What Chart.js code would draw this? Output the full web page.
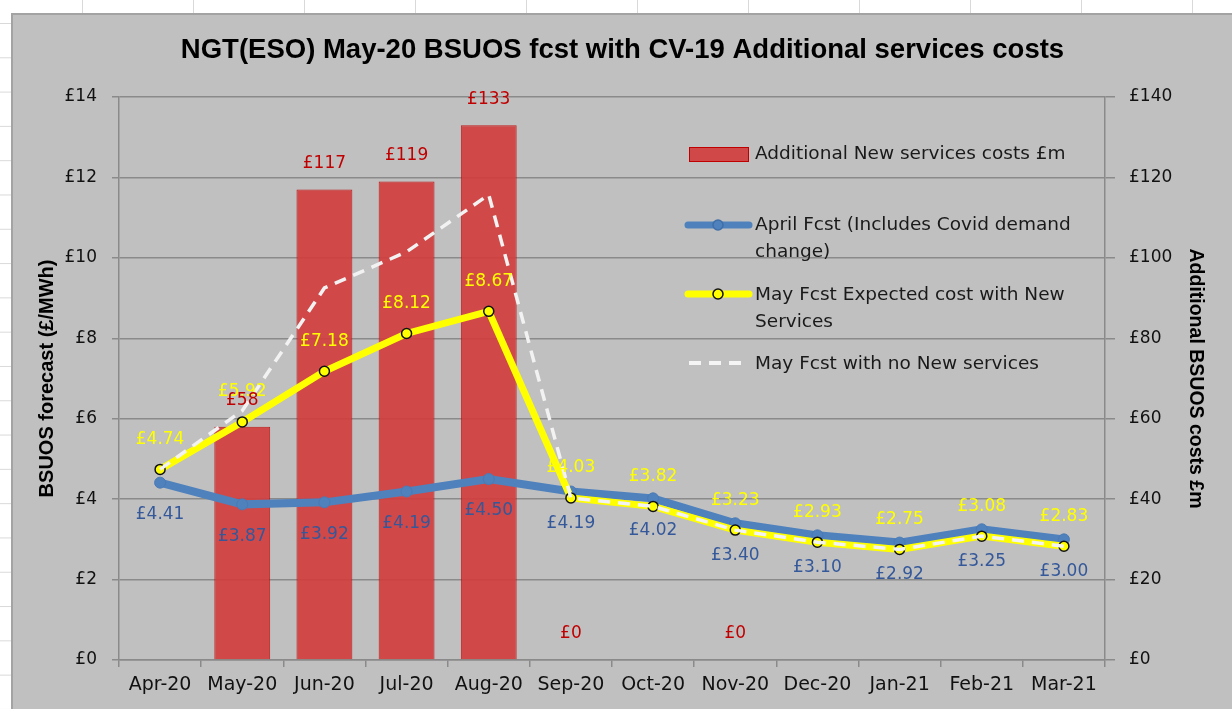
<!DOCTYPE html>
<html>
<head>
<meta charset="utf-8">
<script src="https://cdn.jsdelivr.net/npm/chart.js@4.4.1/dist/chart.umd.min.js"></script>
<style>
  html, body { margin: 0; padding: 0; }
  body {
    width: 1232px; height: 709px; overflow: hidden; position: relative;
    background-color: #fff;
    background-image:
      linear-gradient(to right, #d9d9d9 1px, transparent 1px),
      linear-gradient(to bottom, #d9d9d9 1px, transparent 1px);
    background-size: 111px 100%, 100% 34.3px;
    background-position: 82px 0, 0 23px;
  }
  #frame {
    position: absolute; left: 11px; top: 13px; width: 1240px; height: 710px;
    border-left: 2px solid #a3a3a3; border-top: 2px solid #a3a3a3;
    background: #c0c0c0;
  }
  #chart { position: absolute; left: 0; top: 0; }
  .lg-text {
    position: absolute; font: 18.5px "DejaVu Sans", sans-serif; color: #1a1a1a;
    line-height: 27px; white-space: nowrap;
  }
  .lg-key { position: absolute; }
</style>
</head>
<body>
<div id="frame">
  <canvas id="chart" width="1219" height="694"></canvas>

  <!-- legend sits inside the plot like the Excel one -->
  <div class="lg-key" style="left:676px; top:132px; width:58px; height:13px; background:rgba(209,59,59,0.9); border:1px solid #c00000;"></div>
  <div class="lg-text" style="left:742px; top:124px;">Additional New services costs £m</div>

  <svg class="lg-key" style="left:670px; top:198px;" width="72" height="24">
    <line x1="5" y1="12" x2="66" y2="12" stroke="#4f81bd" stroke-width="7" stroke-linecap="round"/>
    <circle cx="35" cy="12" r="5" fill="#4f81bd" stroke="#3f6fa8" stroke-width="1.5"/>
  </svg>
  <div class="lg-text" style="left:742px; top:195px;">April Fcst (Includes Covid demand<br>change)</div>

  <svg class="lg-key" style="left:670px; top:267px;" width="72" height="24">
    <line x1="5" y1="12" x2="66" y2="12" stroke="#ffff00" stroke-width="7" stroke-linecap="round"/>
    <circle cx="35" cy="12" r="5" fill="#ffff00" stroke="#111" stroke-width="1.5"/>
  </svg>
  <div class="lg-text" style="left:742px; top:265px;">May Fcst Expected cost with New<br>Services</div>

  <svg class="lg-key" style="left:670px; top:336px;" width="72" height="24">
    <line x1="6" y1="12" x2="60" y2="12" stroke="#f4f4f4" stroke-width="4" stroke-dasharray="12 8"/>
  </svg>
  <div class="lg-text" style="left:742px; top:334px;">May Fcst with no New services</div>
</div>

<script>
// ---------- data ----------
const months = ['Apr-20', 'May-20', 'Jun-20', 'Jul-20', 'Aug-20', 'Sep-20',
                'Oct-20', 'Nov-20', 'Dec-20', 'Jan-21', 'Feb-21', 'Mar-21'];

// £m, right axis (null = no bar / no label)
const newServicesCost = [null, 58, 117, 119, 133, 0, null, 0, null, null, null, null];

// £/MWh, left axis
const aprilFcst = [4.41, 3.87, 3.92, 4.19, 4.50, 4.19, 4.02, 3.40, 3.10, 2.92, 3.25, 3.00];
const mayFcst   = [4.74, 5.92, 7.18, 8.12, 8.67, 4.03, 3.82, 3.23, 2.93, 2.75, 3.08, 2.83];
const mayNoNew  = [4.74, 6.20, 9.25, 10.15, 11.57, 4.03, 3.82, 3.23, 2.93, 2.75, 3.08, 2.83];

const leftTicks  = [0, 2, 4, 6, 8, 10, 12, 14];
const rightTicks = [0, 20, 40, 60, 80, 100, 120, 140];

const GRID = '#8a8a8a';

// ---------- value labels (no datalabels plugin available) ----------
const valueLabels = {
    id: 'valueLabels',
    afterDatasetsDraw(chart) {
        const ctx = chart.ctx;
        ctx.save();
        ctx.font = '17px "DejaVu Sans", sans-serif';
        ctx.textAlign = 'center';
        ctx.textBaseline = 'middle';
        // yellow first, blue, then red on top (like the original)
        [1, 2, 0].forEach(di => {
            const ds = chart.data.datasets[di];
            const meta = chart.getDatasetMeta(di);
            if (!ds.valueLabel) return;
            ctx.fillStyle = ds.valueLabel.color;
            meta.data.forEach((el, i) => {
                const v = ds.data[i];
                if (v === null || v === undefined) return;
                const txt = ds.valueLabel.bar ? '£' + v : '£' + v.toFixed(2);
                ctx.fillText(txt, el.x, el.y + ds.valueLabel.dy);
            });
        });
        ctx.restore();
    }
};

const ctx = document.getElementById('chart').getContext('2d');
const chart = new Chart(ctx, {
    type: 'bar',
    data: {
        labels: months,
        datasets: [
            {
                type: 'bar', label: 'Additional New services costs £m', data: newServicesCost,
                yAxisID: 'y1', order: 4,
                backgroundColor: 'rgba(209,59,59,0.9)', borderColor: 'rgba(192,0,0,0.85)', borderWidth: 1,
                barPercentage: 0.68, categoryPercentage: 1.0,
                valueLabel: { color: '#c00000', dy: -26, bar: true }
            },
            {
                type: 'line', label: 'May Fcst Expected cost with New Services', data: mayFcst,
                yAxisID: 'y', order: 2,
                borderColor: '#ffff00', borderWidth: 7, tension: 0,
                pointRadius: 5, pointBackgroundColor: '#ffff00', pointBorderColor: '#111', pointBorderWidth: 1.5,
                valueLabel: { color: '#ffff00', dy: -30 }
            },
            {
                type: 'line', label: 'April Fcst (Includes Covid demand change)', data: aprilFcst,
                yAxisID: 'y', order: 3,
                borderColor: '#4f81bd', borderWidth: 8, tension: 0,
                pointRadius: 5.5, pointBackgroundColor: '#4f81bd', pointBorderColor: '#4a7ab4', pointBorderWidth: 1,
                valueLabel: { color: '#34589a', dy: 32 }
            },
            {
                type: 'line', label: 'May Fcst with no New services', data: mayNoNew,
                yAxisID: 'y', order: 1,
                borderColor: '#f2f2f2', borderWidth: 3.5, borderDash: [12, 8], tension: 0,
                pointRadius: 0
            }
        ]
    },
    options: {
        responsive: false,
        animation: false,
        layout: { padding: 0 },
        plugins: {
            legend: { display: false },
            tooltip: { enabled: false },
            title: {
                display: true,
                text: 'NGT(ESO) May-20 BSUOS fcst with CV-19 Additional services costs',
                color: '#000',
                font: { family: '"Liberation Sans", sans-serif', size: 27.5, weight: 'bold' },
                padding: { top: 19, bottom: 30 }
            }
        },
        scales: {
            x: {
                grid: { drawOnChartArea: false, color: GRID, lineWidth: 1.5, tickLength: 7, offset: true },
                border: { color: GRID, width: 1.5 },
                ticks: { color: '#111', font: { family: '"DejaVu Sans", sans-serif', size: 19 }, padding: 7, maxRotation: 0 },
                afterFit: s => { s.height = 49; }
            },
            y: {
                position: 'left', min: 0, max: 14,
                afterBuildTicks: s => { s.ticks = leftTicks.map(v => ({ value: v })); },
                ticks: { callback: v => '£' + v, color: '#111', font: { family: '"DejaVu Sans", sans-serif', size: 17 }, padding: 15 },
                grid: { color: GRID, lineWidth: 1.5, tickLength: 7 },
                border: { color: GRID, width: 1.5 },
                title: {
                    display: true, text: 'BSUOS forecast (£/MWh)', color: '#000',
                    font: { family: '"Liberation Sans", sans-serif', size: 20, weight: 'bold' },
                    padding: { top: 22, bottom: 0 }
                },
                afterFit: s => { s.width = 106; }
            },
            y1: {
                position: 'right', min: 0, max: 140,
                afterBuildTicks: s => { s.ticks = rightTicks.map(v => ({ value: v })); },
                ticks: { callback: v => '£' + v, color: '#111', font: { family: '"DejaVu Sans", sans-serif', size: 17 }, padding: 14 },
                grid: { drawOnChartArea: false, color: GRID, lineWidth: 1.5, tickLength: 10 },
                border: { color: GRID, width: 1.5 },
                title: {
                    display: true, text: 'Additional BSUOS costs £m', color: '#000',
                    font: { family: '"Liberation Sans", sans-serif', size: 19.5, weight: 'bold' },
                    padding: { top: 25, bottom: 0 }
                },
                afterFit: s => { s.width = 127; }
            }
        }
    },
    plugins: [valueLabels]
});
</script>
</body>
</html>
